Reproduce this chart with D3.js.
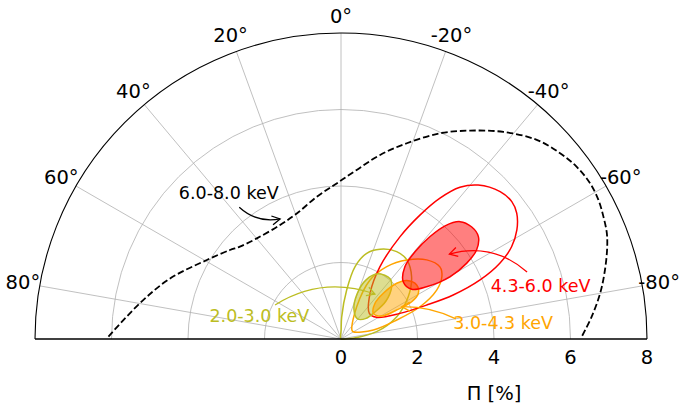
<!DOCTYPE html>
<html>
<head>
<meta charset="utf-8">
<script src="https://cdn.jsdelivr.net/npm/d3@7"></script>
<style>
  html, body { margin: 0; padding: 0; background: #fff; }
  svg { display: block; font-family: "DejaVu Sans", sans-serif; }
</style>
</head>
<body>
<svg id="chart" width="679" height="407"></svg>
<script>
// ---------------- data ----------------
const angleTicks = [80, 60, 40, 20, 0, -20, -40, -60, -80];   // degrees (positive = left)
const radialTicks = [0, 2, 4, 6, 8];                           // Π [%]
const gridRadii = [2, 4, 6];
const axisLabel = "Π [%]";

const bandNames  = ["2.0-3.0 keV", "3.0-4.3 keV", "4.3-6.0 keV", "6.0-8.0 keV"];
const bandColors = ["#bcbd22", "#ffa500", "#ff0000", "#000000"];

// contours: [angle (deg), Π (%)]
const olive68 = [[-29.6,1.96],[-39.2,2.03],[-44.2,1.90],[-49.8,1.54],[-51.5,1.13],[-50.6,0.85],
                 [-39.5,0.68],[-23.4,0.85],[-19.6,1.25],[-23.0,1.68]];
const olive99 = [[-45,0.0],[-1.0,0.25],[-1.8,0.58],[-6.6,1.29],[-11.0,1.93],[-16.7,2.34],[-23.5,2.56],
                 [-32.5,2.71],[-39.8,2.69],[-48.6,2.46],[-57.8,2.08],[-68.2,1.57],[-78.4,0.95],
                 [-86.7,0.32],[-88.5,0.12]];
const orange68 = [[-48.4,2.30],[-54.5,2.43],[-59.4,2.35],[-62.2,2.09],[-62.5,1.64],[-60.5,1.22],
                  [-51.5,1.08],[-43.6,1.29],[-42.8,1.63],[-45.0,2.06]];
const orange99 = [[-50.0,0.37],[-25.9,0.94],[-26.2,1.72],[-32.3,2.24],[-39.8,2.69],[-47.3,3.05],
                  [-53.9,3.20],[-58.3,3.10],[-62.9,2.81],[-67.8,2.23],[-71.2,1.54],[-74.4,0.88],
                  [-59.3,0.37]];
const red68 = [[-45.4,4.37],[-49.3,4.50],[-53.3,4.48],[-56.7,4.24],[-58.9,3.84],[-60.3,3.28],
               [-58.6,2.62],[-54.9,2.26],[-47.4,2.21],[-41.5,2.52],[-40.3,2.99],[-41.0,3.55],
               [-42.6,4.02]];
const red99 = [[-41.7,5.39],[-47.2,5.67],[-51.2,5.73],[-54.4,5.65],[-58.2,5.41],[-61.6,5.07],
               [-64.5,4.60],[-67.0,3.95],[-68.6,3.15],[-68.4,2.41],[-66.5,1.68],[-58.7,1.09],
               [-47.8,1.00],[-32.4,1.42],[-28.3,2.15],[-30.0,3.09],[-32.5,3.84],[-35.1,4.50],
               [-38.1,5.04]];
const highLimit = [[89.4,6.08],[79.9,5.34],[70.5,4.74],[59.5,4.07],[51.3,3.72],[47.6,3.58],[39.9,3.43],
                   [28.1,3.38],[19.4,3.48],[9.7,3.77],[1.6,4.07],[-5.3,4.44],[-12.0,4.92],[-18.6,5.40],
                   [-25.7,5.97],[-31.8,6.41],[-38.1,6.88],[-44.5,7.30],[-49.7,7.51],[-53.8,7.63],
                   [-58.0,7.68],[-61.6,7.65],[-65.0,7.57],[-68.3,7.48],[-71.2,7.35],[-75.4,7.13],
                   [-80.0,6.88],[-84.9,6.58],[-89.5,6.29]];

// annotation anchors in data space [angle, Π]
const labelAt  = [[74.0,2.22],[-84.3,4.26],[-75.1,5.40],[37.6,4.81]];
const arrowFrom = [[62.7,1.94],[-80.1,3.05],[-70.2,5.17],[37.7,4.35]];
const arrowTo   = [[-37.1,1.47],[-62.0,1.80],[-51.9,3.60],[26.9,3.52]];
const arrowRad  = [-0.24, 0.12, 0.27, 0.25];

// ---------------- layout ----------------
const cx = 341, cy = 339, R = 306;
const r = d3.scaleLinear().domain([0, 8]).range([0, R]);
const toRad = d => d * Math.PI / 180;
function pt(a, p) {
  const t = toRad(a);
  return [cx - r(p) * Math.sin(t), cy - r(p) * Math.cos(t)];
}

const svg = d3.select("#chart");
const g = svg.append("g").attr("transform", `translate(${cx},${cy})`);

// grid circles
gridRadii.forEach(v => {
  const p = d3.path();
  p.moveTo(-r(v), 0);
  p.arc(0, 0, r(v), Math.PI, 2 * Math.PI);
  g.append("path").attr("d", p.toString()).attr("fill", "none")
    .attr("stroke", "#b0b0b0").attr("stroke-width", 0.8);
});
// radial grid lines
angleTicks.forEach(a => {
  const [x, y] = pt(a, 8);
  g.append("line").attr("x1", 0).attr("y1", 0).attr("x2", x - cx).attr("y2", y - cy)
    .attr("stroke", "#b0b0b0").attr("stroke-width", 0.8);
});
// outer arc
{
  const p = d3.path();
  p.moveTo(-r(8), 0);
  p.arc(0, 0, r(8), Math.PI, 2 * Math.PI);
  g.append("path").attr("d", p.toString()).attr("fill", "none")
    .attr("stroke", "#000").attr("stroke-width", 1.1);
}

// contours
const closed = d3.lineRadial()
  .angle(d => -toRad(d[0])).radius(d => r(d[1]))
  .curve(d3.curveCatmullRomClosed.alpha(0.5));
const open = d3.lineRadial()
  .angle(d => -toRad(d[0])).radius(d => r(d[1]))
  .curve(d3.curveCatmullRom.alpha(0.5));

const sets = [[olive99, olive68], [orange99, orange68], [red99, red68]];
sets.forEach(([outer, inner], i) => {
  g.append("path").attr("d", closed(outer)).attr("fill", "none")
    .attr("stroke", bandColors[i]).attr("stroke-width", 1.5);
});
sets.forEach(([outer, inner], i) => {
  g.append("path").attr("d", closed(inner))
    .attr("fill", bandColors[i]).attr("fill-opacity", 0.5)
    .attr("stroke", bandColors[i]).attr("stroke-width", 1.5);
});

// 6.0-8.0 keV limit (dashed)
g.append("path").attr("d", open(highLimit)).attr("fill", "none")
  .attr("stroke", "#000").attr("stroke-width", 1.8).attr("stroke-dasharray", "6.5,2.9");

// baseline
svg.append("line").attr("x1", cx - R).attr("x2", cx + R).attr("y1", cy).attr("y2", cy)
  .attr("stroke", "#000").attr("stroke-width", 1.5);

// angle tick labels
angleTicks.forEach(a => {
  const t = toRad(a);
  const rr = R + 17;
  svg.append("text")
    .attr("x", cx - rr * Math.sin(t)).attr("y", cy - rr * Math.cos(t))
    .attr("text-anchor", "middle").attr("dominant-baseline", "central")
    .attr("font-size", 19.5).attr("fill", "#000")
    .text(a + "°");
});
// radial tick labels
radialTicks.forEach(v => {
  svg.append("text").attr("x", cx + r(v)).attr("y", cy + 18)
    .attr("text-anchor", "middle").attr("dominant-baseline", "central")
    .attr("font-size", 19.5).attr("fill", "#000").text(v);
});
svg.append("text").attr("x", cx + r(4)).attr("y", cy + 54)
  .attr("text-anchor", "middle").attr("dominant-baseline", "central")
  .attr("font-size", 19.5).attr("fill", "#000").text(axisLabel);

// annotations
bandNames.forEach((name, i) => {
  const [lx, ly] = pt(labelAt[i][0], labelAt[i][1]);
  svg.append("text").attr("x", lx).attr("y", ly)
    .attr("text-anchor", "middle").attr("dominant-baseline", "central")
    .attr("font-size", 17.5).attr("fill", bandColors[i]).text(name);

  const P0 = pt(arrowFrom[i][0], arrowFrom[i][1]);
  const P2 = pt(arrowTo[i][0], arrowTo[i][1]);
  const dx = P2[0] - P0[0], dy = P2[1] - P0[1];
  const C = [(P0[0] + P2[0]) / 2 - arrowRad[i] * dy, (P0[1] + P2[1]) / 2 + arrowRad[i] * dx];
  const p = d3.path();
  p.moveTo(P0[0], P0[1]);
  p.quadraticCurveTo(C[0], C[1], P2[0], P2[1]);
  svg.append("path").attr("d", p.toString()).attr("fill", "none")
    .attr("stroke", bandColors[i]).attr("stroke-width", 1.3);
  // arrow head "->"
  const ux = P2[0] - C[0], uy = P2[1] - C[1];
  const L = Math.hypot(ux, uy);
  const ex = ux / L, ey = uy / L;
  const hl = 8, hw = 4.5;
  const h = d3.path();
  h.moveTo(P2[0] - hl * ex - hw * ey, P2[1] - hl * ey + hw * ex);
  h.lineTo(P2[0], P2[1]);
  h.lineTo(P2[0] - hl * ex + hw * ey, P2[1] - hl * ey - hw * ex);
  svg.append("path").attr("d", h.toString()).attr("fill", "none")
    .attr("stroke", bandColors[i]).attr("stroke-width", 1.3);
});
</script>
</body>
</html>
